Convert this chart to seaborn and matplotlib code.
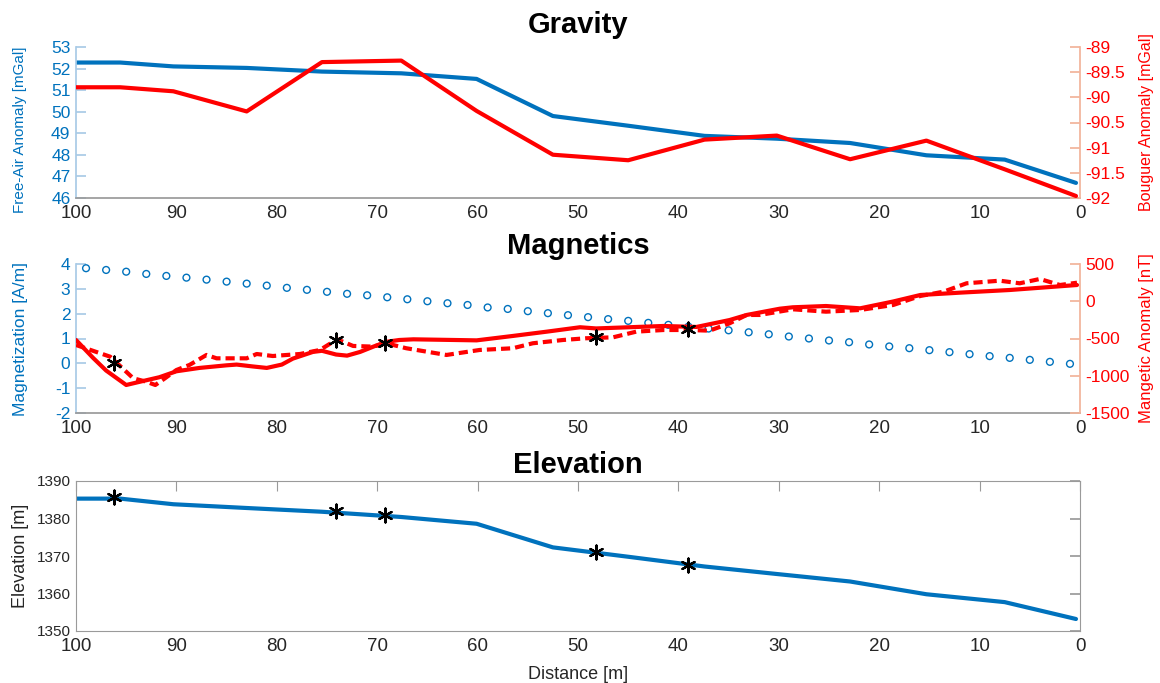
import matplotlib
matplotlib.use("Agg")
import matplotlib.pyplot as plt
import seaborn as sns
from matplotlib.ticker import FormatStrFormatter

# ---- data ----
grav_x = [100, 95.6, 90.3, 83.0, 75.5, 67.6, 60.1, 52.5, 45.0, 37.4, 30.2, 22.9, 15.3, 7.5, 0.4]
free_air = [52.28, 52.28, 52.1, 52.03, 51.86, 51.78, 51.52, 49.8, 49.35, 48.88, 48.75, 48.55, 47.98, 47.78, 46.7]
bouguer = [-89.8, -89.8, -89.88, -90.28, -89.3, -89.27, -90.27, -91.14, -91.25, -90.84, -90.76, -91.23, -90.86, -91.43, -91.96]
elevation = [1385.3, 1385.3, 1383.8, 1382.8, 1381.8, 1380.4, 1378.6, 1372.3, 1369.8, 1367.2, 1365.2, 1363.2, 1359.8, 1357.7, 1353.2]

magz_x = [99, 97, 95, 93, 91, 89, 87, 85, 83, 81, 79, 77, 75, 73, 71, 69, 67, 65, 63, 61,
          59, 57, 55, 53, 51, 49, 47, 45, 43, 41, 39, 37, 35, 33, 31, 29, 27, 25, 23, 21,
          19, 17, 15, 13, 11, 9, 7, 5, 3, 1]
magnetization = [3.83, 3.76, 3.69, 3.60, 3.52, 3.45, 3.37, 3.29, 3.21, 3.13, 3.04, 2.96, 2.88, 2.80, 2.74,
                 2.66, 2.58, 2.50, 2.42, 2.35, 2.25, 2.19, 2.10, 2.02, 1.94, 1.86, 1.78, 1.71, 1.63, 1.55,
                 1.48, 1.40, 1.33, 1.25, 1.17, 1.08, 1.00, 0.92, 0.85, 0.76, 0.68, 0.61, 0.53, 0.45, 0.37,
                 0.29, 0.22, 0.14, 0.06, -0.02]

anom_x = [100, 98.3, 97, 95.0, 93.3, 91.7, 90.0, 87.7, 85.0, 84.0, 82.4, 81.0, 79.5, 78.4, 76.4, 75.5,
          74.1, 73.0, 71.7, 70.4, 69.1, 67.8, 66.4, 60.1, 56.5, 53.1, 49.8, 48.2, 44.9, 41.5, 38.2,
          34.9, 33.2, 29.9, 28.6, 25.3, 21.9, 18.6, 15.9, 12.0, 7.0, 0.3]
anomaly = [-520, -760, -930, -1124, -1070, -1020, -940, -895, -860, -850, -875, -895, -850, -770, -680, -665,
           -715, -730, -680, -610, -545, -520, -511, -525, -466, -408, -349, -365, -349, -332, -345,
           -252, -184, -100, -81, -64, -95, -3, 84, 115, 151, 218]

anom2_x = [100, 96.6, 94.3, 93.0, 92.1, 91.2, 90.0, 88.7, 87.0, 86.0, 83.0, 82.0, 80.4, 77.7, 75.7, 74.0,
           72.4, 70.4, 69.1, 67.1, 63.1, 59.8, 56.5, 54.5, 51.5, 49.2, 46.5, 44.2, 41.5, 38.9, 36.9,
           34.9, 33.2, 31.9, 28.6, 25.3, 21.9, 18.6, 15.9, 13.6, 11.3, 8.0, 6.0, 4.0, 2.0, 0.3]
anomaly2 = [-587, -744, -1034, -1080, -1124, -1040, -923, -855, -721, -766, -766, -708, -735, -708, -654, -511,
            -600, -609, -564, -631, -721, -654, -631, -564, -520, -497, -484, -408, -386, -386, -395,
            -296, -184, -184, -108, -140, -117, -50, 71, 128, 241, 276, 241, 299, 218, 249]

star_x = [96.2, 74.1, 69.2, 48.2, 39.0]
star_anom = [-825, -520, -564, -476, -372]
star_elev = [1385.8, 1382.0, 1381.0, 1371.1, 1367.6]

dist_ticks = [0, 10, 20, 30, 40, 50, 60, 70, 80, 90, 100]

BLUE = "#0072BD"
RED = "#FF0000"
GRAY = "#9a9a9a"
TXT = "#262626"
STAR = (6, 2, 0)

sns.set_theme(style="white")
plt.rcParams["font.family"] = ["Liberation Sans", "DejaVu Sans"]
plt.rcParams["axes.unicode_minus"] = False

fig = plt.figure(figsize=(11.6, 6.83), dpi=100)
W, H = 1160, 683


def box(top, bottom):
    return [76 / W, 1 - bottom / H, 1004 / W, (bottom - top) / H]


def style_x(ax):
    ax.set_xlim(100, 0)
    ax.set_xticks(dist_ticks)
    ax.tick_params(axis="x", direction="in", length=7, width=0.8, color=GRAY,
                   labelsize=13.5, labelcolor=TXT, pad=5)
    ax.spines["bottom"].set_color(GRAY)


def twin_panel(top, bottom, title, pad):
    ax = fig.add_axes(box(top, bottom))
    ax2 = ax.twinx()
    style_x(ax)
    for a in (ax, ax2):
        a.spines["top"].set_visible(False)
    ax.spines["right"].set_visible(False)
    ax2.spines["left"].set_visible(False)
    ax2.spines["bottom"].set_visible(False)
    ax.spines["left"].set_color("#a9cbe6")
    ax2.spines["right"].set_color("#f2b49a")
    ax.tick_params(axis="y", direction="in", length=7, color="#a9cbe6",
                   labelcolor=BLUE, labelsize=12.5, pad=4)
    ax2.tick_params(axis="y", direction="in", length=7, color="#f2b49a",
                    labelcolor=RED, labelsize=12.5, pad=4)
    ax.set_title(title, fontsize=21, fontweight="bold", pad=pad, color="black")
    return ax, ax2


# ---- Gravity ----
ax, ax2 = twin_panel(47, 198, "Gravity", 10)
sns.lineplot(x=grav_x, y=free_air, ax=ax, color=BLUE, linewidth=3, sort=False, estimator=None)
sns.lineplot(x=grav_x, y=bouguer, ax=ax2, color=RED, linewidth=3, sort=False, estimator=None)
ax.set_ylim(46, 53)
ax.set_yticks(range(46, 54))
ax2.set_ylim(-92, -89)
ax2.set_yticks([-92, -91.5, -91, -90.5, -90, -89.5, -89])
ax2.yaxis.set_major_formatter(FormatStrFormatter("%g"))
ax.set_ylabel("Free-Air Anomaly [mGal]", color=BLUE, fontsize=11)
ax2.set_ylabel("Bouguer Anomaly [mGal]", color=RED, fontsize=11.5)
ax.yaxis.set_label_coords(-0.049, 0.45)
ax2.yaxis.set_label_coords(1.059, 0.5)

# ---- Magnetics ----
ax, ax2 = twin_panel(264, 413, "Magnetics", 7)
sns.scatterplot(x=magz_x, y=magnetization, ax=ax, marker="o", s=24, color=BLUE,
                facecolor="none", edgecolor=BLUE, linewidth=1)
sns.lineplot(x=anom_x, y=anomaly, ax=ax2, color=RED, linewidth=3, sort=False, estimator=None)
sns.lineplot(x=anom2_x, y=anomaly2, ax=ax2, color=RED, linewidth=3, sort=False, estimator=None,
             linestyle=(0, (2.2, 1.2)))
sns.scatterplot(x=star_x, y=star_anom, ax=ax2, marker=STAR, s=100, color="black", linewidth=1.6,
                zorder=5)
ax.set_ylim(-2, 4)
ax.set_yticks(range(-2, 5))
ax2.set_ylim(-1500, 500)
ax2.set_yticks([-1500, -1000, -500, 0, 500])
ax.set_ylabel("Magnetization [A/m]", color=BLUE, fontsize=12.5)
ax2.set_ylabel("Mangetic Anomaly [nT]", color=RED, fontsize=12)
ax.yaxis.set_label_coords(-0.048, 0.5)
ax2.yaxis.set_label_coords(1.059, 0.5)

# ---- Elevation ----
ax = fig.add_axes(box(481, 631))
style_x(ax)
for s in ax.spines.values():
    s.set_color(GRAY)
    s.set_linewidth(0.8)
sns.lineplot(x=grav_x, y=elevation, ax=ax, color=BLUE, linewidth=3, sort=False, estimator=None)
sns.scatterplot(x=star_x, y=star_elev, ax=ax, marker=STAR, s=100, color="black", linewidth=1.6,
                zorder=5)
ax.set_ylim(1350, 1390)
ax.set_yticks([1350, 1360, 1370, 1380, 1390])
ax.tick_params(axis="y", direction="in", length=7, color=GRAY, labelcolor=TXT, labelsize=11, pad=4)
ax.tick_params(axis="x", top=True, direction="in", length=7, color=GRAY)
ax.tick_params(axis="y", right=True, direction="in", length=7, color=GRAY)
ax.set_title("Elevation", fontsize=21, fontweight="bold", pad=6, color="black")
ax.set_ylabel("Elevation [m]", color=TXT, fontsize=13)
ax.yaxis.set_label_coords(-0.047, 0.5)
ax.set_xlabel("Distance [m]", color=TXT, fontsize=13, labelpad=8)

fig.savefig("out.png", dpi=100)
